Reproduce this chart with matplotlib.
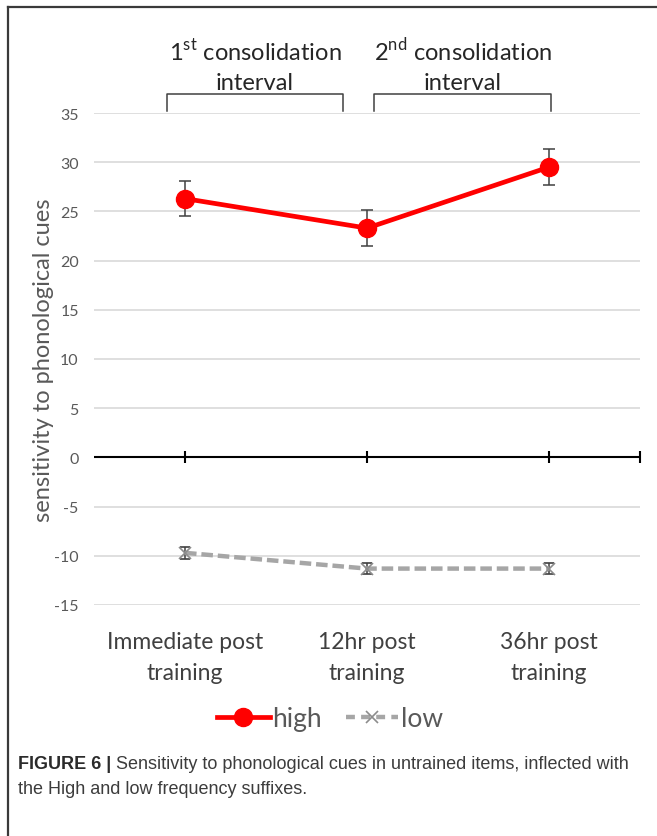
import matplotlib

matplotlib.use("Agg")
import matplotlib.pyplot as plt
from matplotlib.lines import Line2D

plt.rcParams["font.family"] = ["Lato", "DejaVu Sans"]
plt.rcParams["mathtext.fontset"] = "custom"
plt.rcParams["mathtext.rm"] = "Lato"
plt.rcParams["axes.unicode_minus"] = False

W, H, DPI = 657, 837, 100

categories = ["Immediate post\ntraining", "12hr post\ntraining", "36hr post\ntraining"]
high_mean = [26.3, 23.3, 29.5]
high_err = [1.8, 1.8, 1.8]
low_mean = [-9.7, -11.3, -11.3]
low_err = [0.6, 0.6, 0.6]
y_ticks = [-15, -10, -5, 0, 5, 10, 15, 20, 25, 30, 35]
intervals = ["1$^{\\mathrm{st}}$ consolidation\ninterval",
             "2$^{\\mathrm{nd}}$ consolidation\ninterval"]

TEXT_GRAY = "#595959"
RED = "#ff0000"
LOW_GRAY = "#a6a6a6"


def px(x, y):
    # pixel position (top-left origin) -> figure fraction
    return x / W, 1 - y / H


fig = plt.figure(figsize=(W / DPI, H / DPI), dpi=DPI)
left, top = px(94, 114)
right, bottom = px(640, 606)
ax = fig.add_axes([left, bottom, right - left, top - bottom])

x = list(range(len(categories)))
ax.set_xlim(-0.5, len(categories) - 0.5)
ax.set_ylim(y_ticks[0], y_ticks[-1])

# horizontal gridlines, zero line drawn separately in black
for yv in y_ticks:
    if yv != 0:
        ax.axhline(yv, color="#d9d9d9", lw=1.2, zorder=0)
ax.axhline(0, color="black", lw=1.5, zorder=1)
tick_pos = x + [len(categories) - 0.5]
ax.vlines(tick_pos, -0.6, 0.6, color="black", lw=1.5, zorder=1, clip_on=False)

for s in ax.spines.values():
    s.set_visible(False)
ax.set_xticks([])
ax.set_yticks(y_ticks)
ax.tick_params(axis="y", length=0, pad=11, labelsize=11.5, labelcolor=TEXT_GRAY)

# category labels under the plot area
for xi, lab in zip(x, categories):
    ax.text(xi, -17.6, lab, ha="center", va="top", fontsize=16.5,
            color="#404040", linespacing=1.6)

ax.set_ylabel("sensitivity to phonological cues", fontsize=17,
              color=TEXT_GRAY)
ax.yaxis.set_label_coords(-0.074, 0.5)

# series
ax.errorbar(x, high_mean, yerr=high_err, color=RED, lw=3.4, marker="o",
            ms=13, ecolor="#404040", elinewidth=1.1, capsize=4,
            capthick=1.1, zorder=3)
ax.errorbar(x, low_mean, yerr=low_err, color=LOW_GRAY, lw=3.2,
            ls=(0, (2.6, 1.1)), marker="x", ms=9, mew=1.2, mec="#8c8c8c",
            ecolor="#404040", elinewidth=1.1, capsize=3.5, capthick=1.1,
            zorder=3)

# consolidation interval brackets
bracket_spans = [(-0.1, 0.87), (1.04, 2.01)]
for (x0, x1), label in zip(bracket_spans, intervals):
    ax.plot([x0, x0, x1, x1], [35.2, 36.9, 36.9, 35.2], color="#404040",
            lw=1.1, clip_on=False)
    ax.text((x0 + x1) / 2, 37.0, label, ha="center", va="bottom", fontsize=17,
            color="#262626", linespacing=1.5)

# legend
handles = [
    Line2D([], [], color=RED, lw=3.4, marker="o", ms=13),
    Line2D([], [], color=LOW_GRAY, lw=3.2, ls=(0, (2.0, 1.4)), marker="x",
           ms=9, mew=1.2, mec="#8c8c8c"),
]
fig.legend(handles, ["high", "low"], loc="center", bbox_to_anchor=px(330, 720),
           ncol=2, frameon=False, fontsize=19, handlelength=2.0,
           handletextpad=0.1, columnspacing=0.9, labelcolor=TEXT_GRAY)

# frame lines
fig.add_artist(Line2D([8 / W, 1], [1 - 8 / H] * 2, color="#3a3a3a", lw=1.6))
fig.add_artist(Line2D([8 / W] * 2, [0, 1 - 8 / H], color="#3a3a3a", lw=1.6))

# caption
cap_font = ["Liberation Sans", "DejaVu Sans"]
bold = fig.text(*px(18, 769), "FIGURE 6 |", fontsize=13, fontweight="bold",
                color="#2b2b2b", family=cap_font, va="baseline")
plt.annotate(" Sensitivity to phonological cues in untrained items, inflected with",
             xy=(1, 0), xycoords=bold, va="bottom", fontsize=13,
             color="#3c3c3c", family=cap_font)
fig.text(*px(18, 794), "the High and low frequency suffixes.", fontsize=13,
         color="#3c3c3c", family=cap_font, va="baseline")

fig.savefig("out.png", dpi=DPI)
plt.close(fig)
